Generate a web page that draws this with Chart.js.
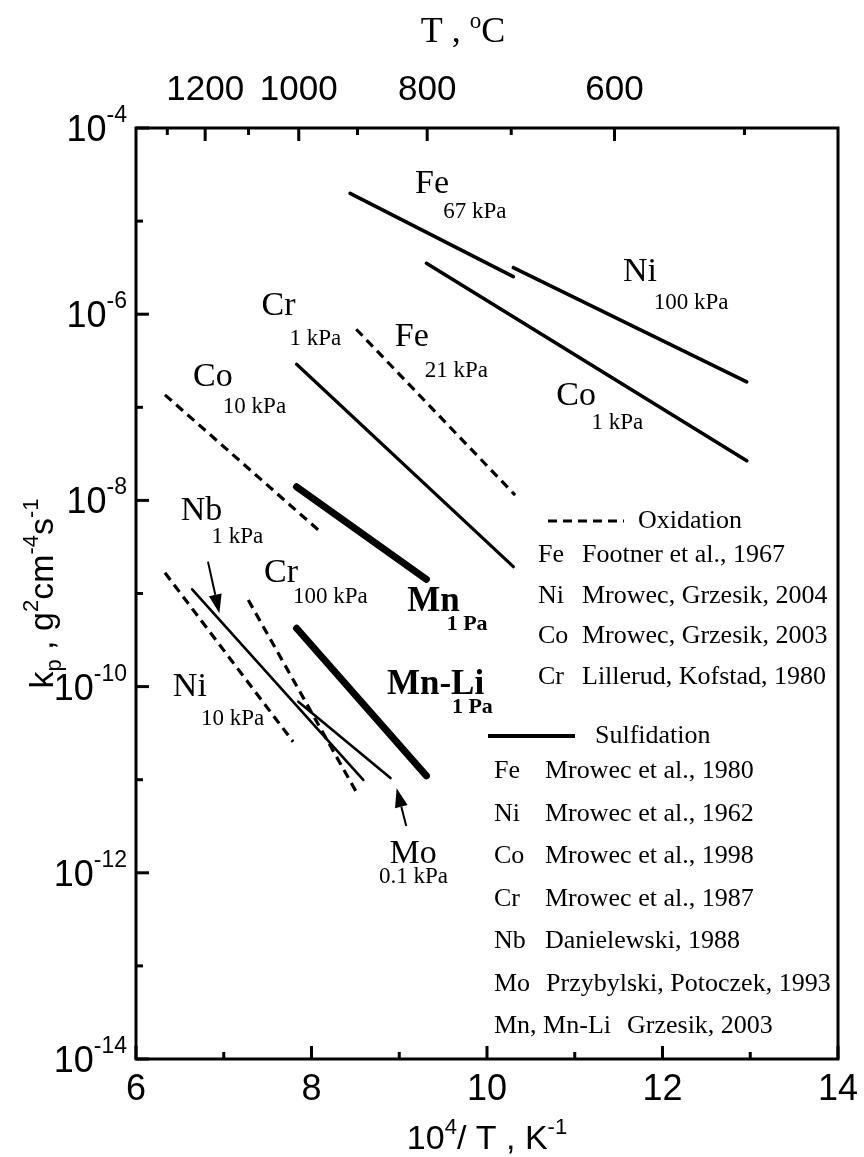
<!DOCTYPE html>
<html>
<head>
<meta charset="utf-8">
<script src="https://cdn.jsdelivr.net/npm/chart.js@4.4.1/dist/chart.umd.min.js"></script>
<style>
  html, body { margin: 0; padding: 0; background: #ffffff; }
  #wrap { width: 864px; height: 1157px; }
</style>
</head>
<body>
<div id="wrap"><canvas id="chart" width="864" height="1157"></canvas></div>
<script>
// Axis ranges: reciprocal temperature 10^4/T (K^-1) and rate constant kp (g^2 cm^-4 s^-1)
const xRange = [6, 14];
const kpRange = [1e-14, 1e-4];
const xTickValues = [6, 7, 8, 9, 10, 11, 12, 13, 14];
const xTickLabels = ['6', '', '8', '', '10', '', '12', '', '14'];
const yTickExponents = [-14, -13, -12, -11, -10, -9, -8, -7, -6, -5, -4];
const yLabelExponents = [-14, -12, -10, -8, -6, -4];
const tempMajor = [1200, 1000, 800, 600];   // degrees C, labelled on the top axis
const tempMinor = [1300, 1100, 900, 700, 500];

// Sulfidation (solid lines): end points [10^4/T], [kp]
const feSulfX = [8.44, 10.30],  feSulfKp = [1.99e-5, 2.53e-6];
const niSulfX = [10.30, 12.96], niSulfKp = [3.16e-6, 1.88e-7];
const coSulfX = [9.31, 12.96],  coSulfKp = [3.52e-6, 2.67e-8];
const crSulfX = [7.83, 10.30],  crSulfKp = [2.90e-7, 1.94e-9];
const nbSulfX = [6.64, 8.59],   nbSulfKp = [1.11e-9, 9.93e-12];
const moSulfX = [7.85, 8.90],   moSulfKp = [6.89e-11, 1.04e-11];
const mnSulfX = [7.83, 9.31],   mnSulfKp = [1.40e-8, 1.42e-9];
const mnLiSulfX = [7.83, 9.31], mnLiSulfKp = [4.23e-10, 1.10e-11];

// Oxidation (dashed lines)
const feOxX = [8.51, 10.32], feOxKp = [6.89e-7, 1.14e-8];
const coOxX = [6.33, 8.12],  coOxKp = [1.36e-7, 4.44e-9];
const niOxX = [6.33, 7.79],  niOxKp = [1.67e-9, 2.56e-11];
const crOxX = [7.28, 8.53],  crOxKp = [8.51e-10, 6.85e-12];

// In-plot labels: text, 10^4/T, kp (left / baseline anchor), style
const plotLabels = [
  ['Fe', 9.18, 1.99e-5, 'el'],     ['67 kPa', 9.50, 1.07e-5, 'p'],
  ['Ni', 11.55, 2.29e-6, 'el'],    ['100 kPa', 11.90, 1.13e-6, 'p'],
  ['Co', 10.79, 1.06e-7, 'el'],    ['1 kPa', 11.19, 5.81e-8, 'p'],
  ['Cr', 7.43, 9.80e-7, 'el'],     ['1 kPa', 7.75, 4.67e-7, 'p'],
  ['Fe', 8.95, 4.55e-7, 'el'],     ['21 kPa', 9.29, 2.10e-7, 'p'],
  ['Co', 6.65, 1.69e-7, 'el'],     ['10 kPa', 6.99, 8.75e-8, 'p'],
  ['Nb', 6.51, 6.15e-9, 'el'],     ['1 kPa', 6.86, 3.46e-9, 'p'],
  ['Cr', 7.46, 1.34e-9, 'el'],     ['100 kPa', 7.79, 7.96e-10, 'p'],
  ['Mn', 9.09, 6.53e-10, 'elB'],   ['1 Pa', 9.54, 4.06e-10, 'pB'],
  ['Mn-Li', 8.86, 8.32e-11, 'elB'],['1 Pa', 9.60, 5.16e-11, 'pB'],
  ['Ni', 6.42, 7.92e-11, 'el'],    ['10 kPa', 6.74, 3.87e-11, 'p'],
  ['Mo', 8.89, 1.26e-12, 'el'],    ['0.1 kPa', 8.77, 7.83e-13, 'p']
];

// Pointer arrows: tail (x, kp) -> head (x, kp)
const arrowTailX = [6.82, 9.08],  arrowTailKp = [2.20e-9, 3.18e-12];
const arrowHeadX = [6.95, 8.97],  arrowHeadKp = [6.12e-10, 8.09e-12];

// Reference lists
const oxidationRefs = [
  ['Fe', 'Footner et al., 1967'],
  ['Ni', 'Mrowec, Grzesik, 2004'],
  ['Co', 'Mrowec, Grzesik, 2003'],
  ['Cr', 'Lillerud, Kofstad, 1980']
];
const sulfidationRefs = [
  ['Fe', 'Mrowec et al., 1980'],
  ['Ni', 'Mrowec et al., 1962'],
  ['Co', 'Mrowec et al., 1998'],
  ['Cr', 'Mrowec et al., 1987'],
  ['Nb', 'Danielewski, 1988'],
  ['Mo', 'Przybylski, Potoczek, 1993'],
  ['Mn, Mn-Li', 'Grzesik, 2003']
];

const SERIF = '"Liberation Serif", "Times New Roman", serif';
const SANS = '"Liberation Sans", Arial, sans-serif';

function pts(xs, ks) { return xs.map((x, i) => ({ x: x, y: ks[i] })); }
function solid(xs, ks, w) {
  return { data: pts(xs, ks), borderColor: '#000', borderWidth: w, borderCapStyle: 'round',
           pointRadius: 0, fill: false, showLine: true };
}
function dashed(xs, ks) {
  return { data: pts(xs, ks), borderColor: '#000', borderWidth: 3.2, borderDash: [9, 6],
           borderCapStyle: 'butt', pointRadius: 0, fill: false, showLine: true };
}

const datasets = [
  solid(feSulfX, feSulfKp, 3.6),
  solid(niSulfX, niSulfKp, 3.6),
  solid(coSulfX, coSulfKp, 3.6),
  solid(crSulfX, crSulfKp, 3.2),
  solid(nbSulfX, nbSulfKp, 2.6),
  solid(moSulfX, moSulfKp, 2.6),
  solid(mnSulfX, mnSulfKp, 7),
  solid(mnLiSulfX, mnLiSulfKp, 7),
  dashed(feOxX, feOxKp),
  dashed(coOxX, coOxKp),
  dashed(niOxX, niOxKp),
  dashed(crOxX, crOxKp)
];

// Draws runs of text with individual font / baseline shift (sub- and superscripts)
function drawRich(ctx, parts, x, y, align) {
  let w = 0;
  parts.forEach(p => { ctx.font = p[1]; w += ctx.measureText(p[0]).width; });
  let cx = align === 'right' ? x - w : (align === 'center' ? x - w / 2 : x);
  ctx.textAlign = 'left';
  ctx.textBaseline = 'alphabetic';
  parts.forEach(p => {
    ctx.font = p[1];
    ctx.fillText(p[0], cx, y + (p[2] || 0));
    cx += ctx.measureText(p[0]).width;
  });
}

const decorations = {
  id: 'decorations',
  afterDraw(chart) {
    const ctx = chart.ctx;
    const a = chart.chartArea;
    const sx = chart.scales.x, sy = chart.scales.y, st = chart.scales.xTop;
    ctx.save();
    ctx.fillStyle = '#000';
    ctx.strokeStyle = '#000';

    // frame
    ctx.lineWidth = 3;
    ctx.lineCap = 'butt';
    ctx.strokeRect(a.left, a.top, a.right - a.left, a.bottom - a.top);

    // bottom ticks (inward) and labels
    xTickValues.forEach((v, i) => {
      const px = sx.getPixelForValue(v);
      const len = xTickLabels[i] ? 13 : 7;
      ctx.beginPath(); ctx.moveTo(px, a.bottom); ctx.lineTo(px, a.bottom - len); ctx.stroke();
      if (xTickLabels[i]) {
        ctx.font = '36px ' + SANS; ctx.textAlign = 'center'; ctx.textBaseline = 'alphabetic';
        ctx.fillText(xTickLabels[i], px, a.bottom + 41);
      }
    });

    // left ticks (inward) and power-of-ten labels
    yTickExponents.forEach(e => {
      const py = sy.getPixelForValue(Math.pow(10, e));
      const major = yLabelExponents.indexOf(e) >= 0;
      ctx.beginPath(); ctx.moveTo(a.left, py); ctx.lineTo(a.left + (major ? 13 : 7), py); ctx.stroke();
      if (major) {
        drawRich(ctx, [['10', '36px ' + SANS, 0], [String(e), '23px ' + SANS, -19]], a.left - 9, py + 13, 'right');
      }
    });

    // top temperature axis
    tempMajor.concat(tempMinor).forEach(t => {
      const px = st.getPixelForValue(1e4 / (t + 273.15));
      const major = tempMajor.indexOf(t) >= 0;
      ctx.beginPath(); ctx.moveTo(px, a.top); ctx.lineTo(px, a.top + (major ? 13 : 7)); ctx.stroke();
      if (major) {
        ctx.font = '35px ' + SANS; ctx.textAlign = 'center'; ctx.textBaseline = 'alphabetic';
        ctx.fillText(String(t), px, a.top - 28);
      }
    });

    // axis titles
    drawRich(ctx, [['T , ', '36px ' + SERIF, 0], ['o', '23px ' + SERIF, -14], ['C', '36px ' + SERIF, 0]],
             (a.left + a.right) / 2 - 24, 42, 'center');
    drawRich(ctx, [['10', '34px ' + SANS, 0], ['4', '22px ' + SANS, -15], ['/ T , K', '34px ' + SANS, 0],
                   ['-1', '22px ' + SANS, -15]], (a.left + a.right) / 2, a.bottom + 90, 'center');
    ctx.save();
    ctx.translate(53, (a.top + a.bottom) / 2);
    ctx.rotate(-Math.PI / 2);
    drawRich(ctx, [['k', '34px ' + SANS, 0], ['p', '22px ' + SANS, 8], [' , g', '34px ' + SANS, 0],
                   ['2', '22px ' + SANS, -15], ['cm', '34px ' + SANS, 0], ['-4', '22px ' + SANS, -15],
                   ['s', '34px ' + SANS, 0], ['-1', '22px ' + SANS, -15]], 0, 0, 'center');
    ctx.restore();

    // in-plot labels
    const fonts = { el: '34px ' + SERIF, p: '23px ' + SERIF, elB: 'bold 35px ' + SERIF, pB: 'bold 22px ' + SERIF };
    ctx.textAlign = 'left'; ctx.textBaseline = 'alphabetic';
    plotLabels.forEach(l => {
      ctx.font = fonts[l[3]];
      ctx.fillText(l[0], sx.getPixelForValue(l[1]), sy.getPixelForValue(l[2]));
    });

    // arrows
    ctx.lineWidth = 2;
    arrowTailX.forEach((_, i) => {
      const x0 = sx.getPixelForValue(arrowTailX[i]), y0 = sy.getPixelForValue(arrowTailKp[i]);
      const x1 = sx.getPixelForValue(arrowHeadX[i]), y1 = sy.getPixelForValue(arrowHeadKp[i]);
      const ang = Math.atan2(y1 - y0, x1 - x0);
      const hl = 19, hw = 6.5;
      const bx = x1 - hl * Math.cos(ang), by = y1 - hl * Math.sin(ang);
      ctx.beginPath(); ctx.moveTo(x0, y0); ctx.lineTo(bx, by); ctx.stroke();
      ctx.beginPath();
      ctx.moveTo(x1, y1);
      ctx.lineTo(bx + hw * Math.sin(ang), by - hw * Math.cos(ang));
      ctx.lineTo(bx - hw * Math.sin(ang), by + hw * Math.cos(ang));
      ctx.closePath(); ctx.fill();
    });

    // key: oxidation
    ctx.lineWidth = 3.2;
    ctx.setLineDash([9, 6]);
    ctx.beginPath(); ctx.moveTo(548, 521); ctx.lineTo(624, 521); ctx.stroke();
    ctx.setLineDash([]);
    ctx.font = '26px ' + SERIF; ctx.textAlign = 'left';
    ctx.fillText('Oxidation', 638, 528);
    oxidationRefs.forEach((r, i) => {
      const y = 562 + i * 40.5;
      ctx.fillText(r[0], 538, y);
      ctx.fillText(r[1], 582, y);
    });

    // key: sulfidation
    ctx.lineWidth = 4;
    ctx.beginPath(); ctx.moveTo(488, 736); ctx.lineTo(575, 736); ctx.stroke();
    ctx.fillText('Sulfidation', 595, 743);
    sulfidationRefs.forEach((r, i) => {
      const y = 778 + i * 42.5;
      ctx.fillText(r[0], 494, y);
      const w = ctx.measureText(r[0]).width;
      ctx.fillText(r[1], Math.max(545, 494 + w + 16), y);
    });

    ctx.restore();
  }
};

new Chart(document.getElementById('chart'), {
  type: 'scatter',
  data: { datasets: datasets },
  options: {
    responsive: false,
    animation: false,
    devicePixelRatio: 1,
    layout: { padding: { left: 0, right: 26, top: 0, bottom: 0 } },
    plugins: { legend: { display: false }, tooltip: { enabled: false } },
    scales: {
      x: {
        type: 'linear', position: 'bottom', min: xRange[0], max: xRange[1],
        grid: { display: false }, border: { display: false }, ticks: { display: false },
        afterFit(s) { s.height = 98; }
      },
      xTop: {
        type: 'linear', position: 'top', min: xRange[0], max: xRange[1],
        grid: { display: false }, border: { display: false }, ticks: { display: false },
        afterFit(s) { s.height = 128; }
      },
      y: {
        type: 'logarithmic', position: 'left', min: kpRange[0], max: kpRange[1],
        grid: { display: false }, border: { display: false }, ticks: { display: false },
        afterFit(s) { s.width = 136; }
      }
    }
  },
  plugins: [decorations]
});
</script>
</body>
</html>
